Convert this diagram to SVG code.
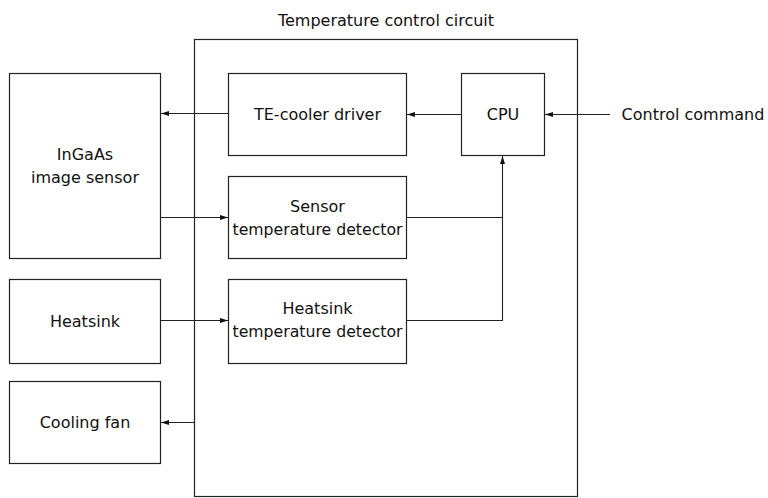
<svg xmlns="http://www.w3.org/2000/svg" width="768" height="498" viewBox="0 0 768 498">
<style>
.box{fill:#fff;stroke:#222;stroke-width:1.2}
.t{font-family:"DejaVu Sans",Verdana,sans-serif;font-size:16px;fill:#111;text-anchor:middle}
.c{fill:none;stroke:#222;stroke-width:1.1}
</style>
<defs>
<marker id="ah" viewBox="0 0 8 6" refX="8" refY="3" markerWidth="8" markerHeight="6" markerUnits="userSpaceOnUse" orient="auto">
<path d="M0,0.5 L8,3 L0,5.5 Z" fill="#111"/>
</marker>
</defs>
<rect width="768" height="498" fill="#fff"/>
<g id="circuit">
<rect class="box" x="194.5" y="39.5" width="383" height="457"/>
<text class="t" x="386" y="26">Temperature control circuit</text>
</g>
<g id="ingaas">
<rect class="box" x="9.5" y="73.5" width="151" height="185"/>
<text class="t" x="85" y="160">InGaAs</text>
<text class="t" x="85" y="183">image sensor</text>
</g>
<g id="heatsink">
<rect class="box" x="9.5" y="279.5" width="151" height="84"/>
<text class="t" x="85" y="327">Heatsink</text>
</g>
<g id="fan">
<rect class="box" x="9.5" y="381.5" width="151" height="82"/>
<text class="t" x="85" y="428">Cooling fan</text>
</g>
<g id="driver">
<rect class="box" x="228.5" y="73.5" width="178" height="82"/>
<text class="t" x="317.5" y="120">TE-cooler driver</text>
</g>
<g id="cpu">
<rect class="box" x="461.5" y="73.5" width="83" height="82"/>
<text class="t" x="503" y="120">CPU</text>
</g>
<g id="sensordet">
<rect class="box" x="228.5" y="176.5" width="178" height="82"/>
<text class="t" x="317.5" y="211.5">Sensor</text>
<text class="t" x="317.5" y="234.5" textLength="170" lengthAdjust="spacingAndGlyphs">temperature detector</text>
</g>
<g id="hsdet">
<rect class="box" x="228.5" y="279.5" width="178" height="84"/>
<text class="t" x="317.5" y="314">Heatsink</text>
<text class="t" x="317.5" y="337" textLength="170" lengthAdjust="spacingAndGlyphs">temperature detector</text>
</g>
<g id="command">
<text class="t" x="693" y="120">Control command</text>
</g>
<g id="connectors">
<path class="c" d="M228.5,113.5 H161" marker-end="url(#ah)"/>
<path class="c" d="M461.5,114.5 H407" marker-end="url(#ah)"/>
<path class="c" d="M610,114.5 H545" marker-end="url(#ah)"/>
<path class="c" d="M160.5,217.5 H228" marker-end="url(#ah)"/>
<path class="c" d="M160.5,320.5 H228" marker-end="url(#ah)"/>
<path class="c" d="M406.5,217.5 H502.5 V156" marker-end="url(#ah)"/>
<path class="c" d="M406.5,320.5 H502.5 V217.5"/>
<path class="c" d="M194.5,422.5 H161" marker-end="url(#ah)"/>
</g>
</svg>
